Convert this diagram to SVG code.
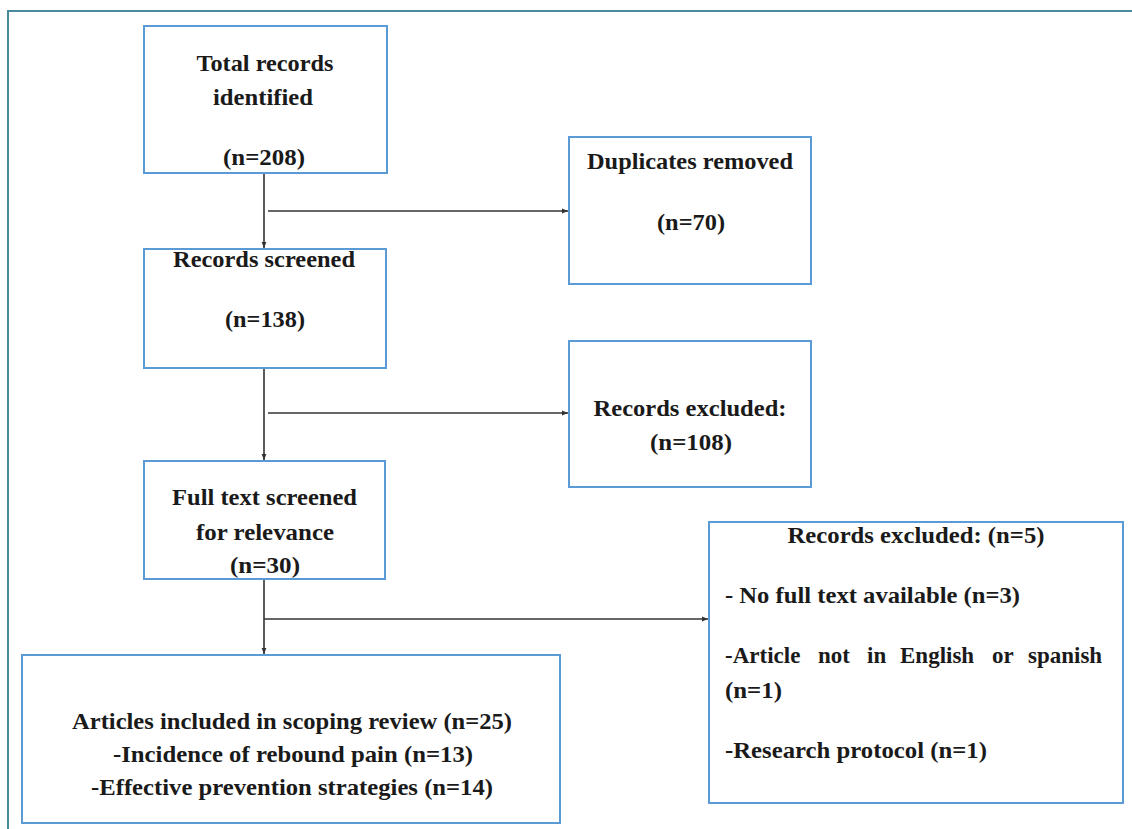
<svg xmlns="http://www.w3.org/2000/svg" width="1132" height="829" viewBox="0 0 1132 829">
<style>
.box{fill:#ffffff;stroke:#5b9bd5;stroke-width:2}
.frame{fill:none;stroke:#4a8b9b;stroke-width:2}
.t{font-family:"Liberation Serif","Times New Roman",serif;font-weight:bold;font-size:23px;fill:#1a1a1a}
.c{text-anchor:middle}
.ln{fill:none;stroke:#333333;stroke-width:1.6}
</style>
<defs>
<marker id="ah" viewBox="0 0 10 10" refX="10" refY="5" markerWidth="6" markerHeight="6" orient="auto" markerUnits="userSpaceOnUse">
<path d="M0,1 L10,5 L0,9 Z" fill="#333333"/>
</marker>
</defs>
<rect width="1132" height="829" fill="#ffffff"/>
<path class="frame" d="M8,829 V11 H1132"/>
<g id="connectors">
<line class="ln" x1="264" y1="173" x2="264" y2="248" marker-end="url(#ah)"/>
<line class="ln" x1="268" y1="211" x2="568" y2="211" marker-end="url(#ah)"/>
<line class="ln" x1="264" y1="368" x2="264" y2="460" marker-end="url(#ah)"/>
<line class="ln" x1="268" y1="413" x2="568" y2="413" marker-end="url(#ah)"/>
<line class="ln" x1="264" y1="579" x2="264" y2="654" marker-end="url(#ah)"/>
<line class="ln" x1="264" y1="619" x2="708" y2="619" marker-end="url(#ah)"/>
</g>
<g id="n-total">
<rect class="box" x="144" y="26" width="243" height="147"/>
<text class="t c" x="265" y="71" textLength="137" lengthAdjust="spacingAndGlyphs">Total records</text>
<text class="t c" x="263" y="105" textLength="100" lengthAdjust="spacingAndGlyphs">identified</text>
<text class="t c" x="264" y="165" textLength="82" lengthAdjust="spacingAndGlyphs">(n=208)</text>
</g>
<g id="n-duplicates">
<rect class="box" x="569" y="137" width="242" height="147"/>
<text class="t c" x="690" y="169" textLength="206" lengthAdjust="spacingAndGlyphs">Duplicates removed</text>
<text class="t c" x="691" y="230" textLength="68" lengthAdjust="spacingAndGlyphs">(n=70)</text>
</g>
<g id="n-screened">
<rect class="box" x="144" y="249" width="242" height="119"/>
<text class="t c" x="264" y="267" textLength="182" lengthAdjust="spacingAndGlyphs">Records screened</text>
<text class="t c" x="265" y="327" textLength="80" lengthAdjust="spacingAndGlyphs">(n=138)</text>
</g>
<g id="n-excluded1">
<rect class="box" x="569" y="341" width="242" height="146"/>
<text class="t c" x="690" y="416" textLength="193" lengthAdjust="spacingAndGlyphs">Records excluded:</text>
<text class="t c" x="691" y="450" textLength="82" lengthAdjust="spacingAndGlyphs">(n=108)</text>
</g>
<g id="n-fulltext">
<rect class="box" x="144" y="461" width="241" height="118"/>
<text class="t c" x="264.5" y="505" textLength="185" lengthAdjust="spacingAndGlyphs">Full text screened</text>
<text class="t c" x="265" y="540" textLength="138" lengthAdjust="spacingAndGlyphs">for relevance</text>
<text class="t c" x="265" y="573" textLength="70" lengthAdjust="spacingAndGlyphs">(n=30)</text>
</g>
<g id="n-excluded2">
<rect class="box" x="709" y="522" width="414" height="281"/>
<text class="t c" x="916" y="543" textLength="257" lengthAdjust="spacingAndGlyphs">Records excluded: (n=5)</text>
<text class="t" x="725" y="603" textLength="295" lengthAdjust="spacingAndGlyphs">- No full text available (n=3)</text>
<text class="t" y="663"><tspan x="725">-Article</tspan><tspan x="818">not</tspan><tspan x="867">in</tspan><tspan x="900">English</tspan><tspan x="992">or</tspan><tspan x="1028">spanish</tspan></text>
<text class="t" x="725" y="698" textLength="57" lengthAdjust="spacingAndGlyphs">(n=1)</text>
<text class="t" x="725" y="758" textLength="262" lengthAdjust="spacingAndGlyphs">-Research protocol (n=1)</text>
</g>
<g id="n-included">
<rect class="box" x="22" y="655" width="538" height="168"/>
<text class="t c" x="292" y="729" textLength="440" lengthAdjust="spacingAndGlyphs">Articles included in scoping review (n=25)</text>
<text class="t c" x="293" y="762" textLength="360" lengthAdjust="spacingAndGlyphs">-Incidence of rebound pain (n=13)</text>
<text class="t c" x="292" y="795" textLength="402" lengthAdjust="spacingAndGlyphs">-Effective prevention strategies (n=14)</text>
</g>
</svg>
